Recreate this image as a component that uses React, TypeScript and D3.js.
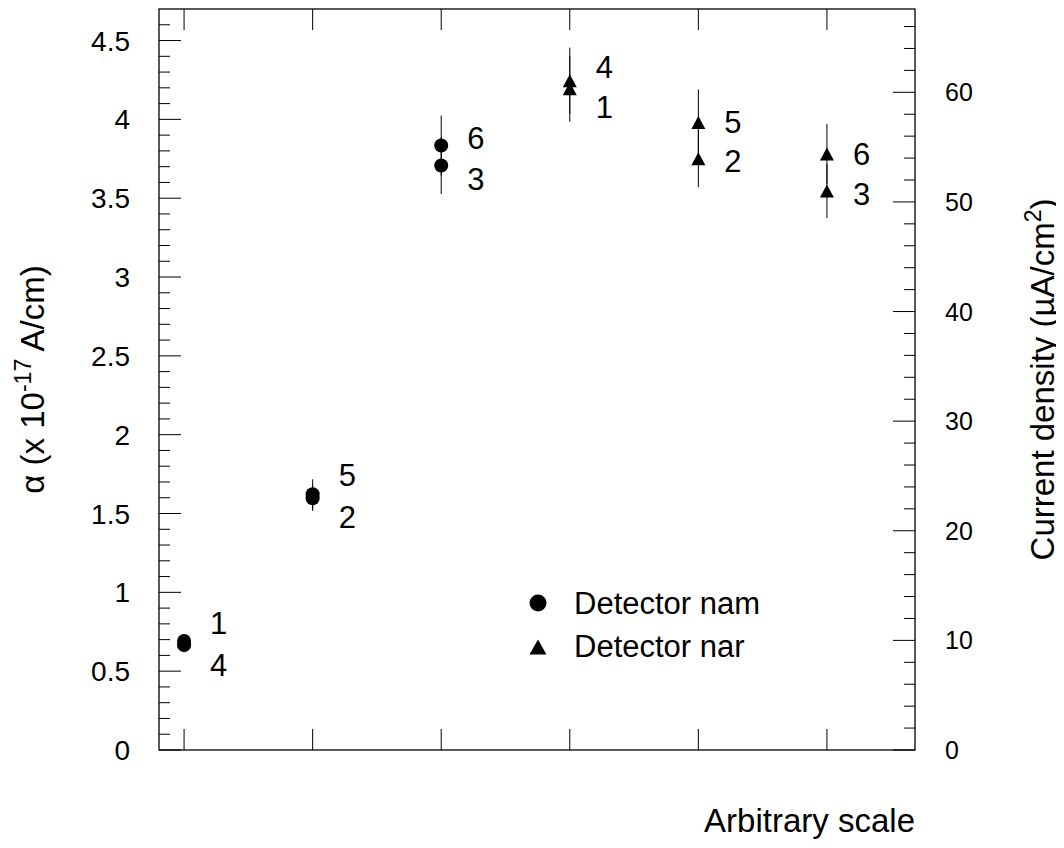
import React from "react";
import * as d3 from "d3";

// Detector "nam" (circles): two samples per position
const namX = [1, 1, 2, 2, 3, 3];
const namAlpha = [0.691, 0.665, 1.622, 1.597, 3.834, 3.707];
const namErr = [0.035, 0.035, 0.095, 0.08, 0.19, 0.18];
const namLabels = ["1", "4", "5", "2", "6", "3"];
const namLabelAlpha = [0.805, 0.539, 1.743, 1.477, 3.885, 3.625];

// Detector "nar" (triangles)
const narX = [4, 4, 5, 5, 6, 6];
const narAlpha = [4.245, 4.194, 3.98, 3.75, 3.78, 3.545];
const narErr = [0.21, 0.21, 0.21, 0.18, 0.19, 0.17];
const narLabels = ["4", "1", "5", "2", "6", "3"];
const narLabelAlpha = [4.331, 4.078, 3.986, 3.739, 3.78, 3.527];

const xTicks = [1, 2, 3, 4, 5, 6];
const leftMajor = [0, 0.5, 1, 1.5, 2, 2.5, 3, 3.5, 4, 4.5];
const leftLabels = ["0", "0.5", "1", "1.5", "2", "2.5", "3", "3.5", "4", "4.5"];
const rightMajor = [0, 10, 20, 30, 40, 50, 60];
const rightLabels = ["0", "10", "20", "30", "40", "50", "60"];

const legendNames = ["Detector nam", "Detector nar"];

const FONT = "'Liberation Sans', Arial, Helvetica, sans-serif";

const W = 1064;
const H = 848;
const L = 159;
const R = 915;
const T = 9;
const B = 750;

const x = d3.scaleLinear().domain([0.805, 6.685]).range([L, R]);
const yL = d3.scaleLinear().domain([0, 4.7]).range([B, T]);
const yR = d3.scaleLinear().domain([0, 67.6]).range([B, T]);

const leftMinor = d3.range(0, 4.65, 0.1).filter(
  (v) => !leftMajor.some((m) => Math.abs(m - v) < 1e-6)
);
const rightMinor = d3.range(0, 67, 2).filter((v) => v % 10 !== 0);

const tri = (cx: number, cy: number, w: number, h: number) => {
  const p = d3.path();
  p.moveTo(cx, cy - h / 2);
  p.lineTo(cx + w / 2, cy + h / 2);
  p.lineTo(cx - w / 2, cy + h / 2);
  p.closePath();
  return p.toString();
};

export default function App() {
  const labelDx = 26;
  return (
    <svg width={W} height={H} style={{ display: "block", margin: -8 }} fontFamily={FONT}>
      <rect width={W} height={H} fill="#fff" />
      {/* frame */}
      <rect x={L} y={T} width={R - L} height={B - T} fill="none" stroke="#000" strokeWidth={1.3} />

      {/* left axis ticks */}
      {leftMajor.map((v) => (
        <line key={"lM" + v} x1={L} x2={L + 22} y1={yL(v)} y2={yL(v)} stroke="#000" strokeWidth={1} />
      ))}
      {leftMinor.map((v) => (
        <line key={"lm" + v} x1={L} x2={L + 11} y1={yL(v)} y2={yL(v)} stroke="#000" strokeWidth={1} />
      ))}
      {leftMajor.map((v, i) => (
        <text key={"lt" + v} x={130} y={yL(v)} dy="0.36em" textAnchor="end" fontSize={28}>
          {leftLabels[i]}
        </text>
      ))}

      {/* right axis ticks */}
      {rightMajor.map((v) => (
        <line key={"rM" + v} x1={R - 22} x2={R} y1={yR(v)} y2={yR(v)} stroke="#000" strokeWidth={1} />
      ))}
      {rightMinor.map((v) => (
        <line key={"rm" + v} x1={R - 11} x2={R} y1={yR(v)} y2={yR(v)} stroke="#000" strokeWidth={1} />
      ))}
      {rightMajor.map((v, i) => (
        <text key={"rt" + v} x={945} y={yR(v)} dy="0.36em" textAnchor="start" fontSize={25}>
          {rightLabels[i]}
        </text>
      ))}

      {/* x ticks, bottom and top */}
      {xTicks.map((v) => (
        <g key={"xt" + v}>
          <line x1={x(v)} x2={x(v)} y1={B} y2={B - 21} stroke="#000" strokeWidth={1} />
          <line x1={x(v)} x2={x(v)} y1={T} y2={T + 21} stroke="#000" strokeWidth={1} />
        </g>
      ))}

      {/* axis titles */}
      <text x={915} y={832} textAnchor="end" fontSize={33}>
        Arbitrary scale
      </text>
      <text transform={`translate(44, ${(T + B) / 2}) rotate(-90)`} textAnchor="middle" fontSize={33}>
        α (x 10<tspan dy={-13} fontSize={23}>-17</tspan>
        <tspan dy={13}> A/cm)</tspan>
      </text>
      <text transform={`translate(1054, ${(T + B) / 2}) rotate(-90)`} textAnchor="middle" fontSize={33}>
        Current density (µA/cm<tspan dy={-13} fontSize={23}>2</tspan>
        <tspan dy={13}>)</tspan>
      </text>

      {/* nam: error bars, circles and sample numbers */}
      {namX.map((v, i) => (
        <line key={"ne" + i} x1={x(v)} x2={x(v)} y1={yL(namAlpha[i] + namErr[i])} y2={yL(namAlpha[i] - namErr[i])} stroke="#000" strokeWidth={1} />
      ))}
      {namX.map((v, i) => (
        <circle key={"nc" + i} cx={x(v)} cy={yL(namAlpha[i])} r={7} fill="#000" />
      ))}
      {namX.map((v, i) => (
        <text key={"nl" + i} x={x(v) + labelDx} y={yL(namLabelAlpha[i])} dy="0.36em" fontSize={31}>
          {namLabels[i]}
        </text>
      ))}

      {/* nar: error bars, triangles and sample numbers */}
      {narX.map((v, i) => (
        <line key={"re" + i} x1={x(v)} x2={x(v)} y1={yL(narAlpha[i] + narErr[i])} y2={yL(narAlpha[i] - narErr[i])} stroke="#000" strokeWidth={1} />
      ))}
      {narX.map((v, i) => (
        <path key={"rt" + i} d={tri(x(v), yL(narAlpha[i]), 14, 13)} fill="#000" />
      ))}
      {narX.map((v, i) => (
        <text key={"rl" + i} x={x(v) + labelDx} y={yL(narLabelAlpha[i])} dy="0.36em" fontSize={31}>
          {narLabels[i]}
        </text>
      ))}

      {/* legend */}
      <circle cx={538} cy={603} r={8.5} fill="#000" />
      <path d={tri(538, 647, 17, 15)} fill="#000" />
      <text x={574} y={603} dy="0.36em" fontSize={31}>
        {legendNames[0]}
      </text>
      <text x={574} y={646} dy="0.36em" fontSize={31}>
        {legendNames[1]}
      </text>
    </svg>
  );
}
